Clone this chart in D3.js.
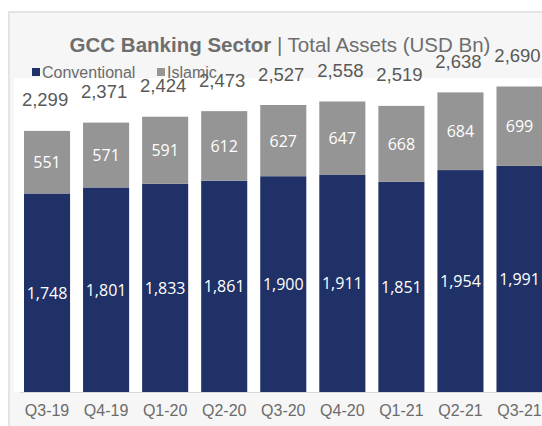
<!DOCTYPE html>
<html>
<head>
<meta charset="utf-8">
<script src="https://cdn.jsdelivr.net/npm/d3@7"></script>
<style>
  body { margin: 0; background: #fff; }
  svg { display: block; }
</style>
</head>
<body>
<div id="chart"></div>
<script>
// data
var quarters = ["Q3-19", "Q4-19", "Q1-20", "Q2-20", "Q3-20", "Q4-20", "Q1-21", "Q2-21", "Q3-21"];
var conventional = [1748, 1801, 1833, 1861, 1900, 1911, 1851, 1954, 1991];
var islamic = [551, 571, 591, 612, 627, 647, 668, 684, 699];
var totals = [2299, 2371, 2424, 2473, 2527, 2558, 2519, 2638, 2690];
var seriesNames = ["Conventional", "Islamic"];
var seriesColors = ["#1f3166", "#959595"];

var svgWidth = 542;
var svgHeight = 426;

var svg = d3.select("#chart")
  .append("svg")
  .attr("width", svgWidth)
  .attr("height", svgHeight);

// chart area frame
svg.append("rect")
  .attr("x", 9).attr("y", 12)
  .attr("width", svgWidth).attr("height", svgHeight)
  .attr("fill", "#f6f6f6")
  .attr("stroke", "#e4e4e4")
  .attr("stroke-width", 2);

// plot area
svg.append("rect")
  .attr("x", 14).attr("y", 78)
  .attr("width", svgWidth).attr("height", 314)
  .attr("fill", "#ffffff");

var rows = quarters.map(function(q, i) {
  return { quarter: q, Conventional: conventional[i], Islamic: islamic[i], total: totals[i] };
});

var xScale = d3.scaleBand()
  .domain(quarters)
  .range([17.5, 17.5 + 9 * 59.06])
  .paddingInner(0.22)
  .paddingOuter(0.11);

var yScale = d3.scaleLinear()
  .domain([0, 2800])
  .range([392, 74]);

var stacked = d3.stack().keys(seriesNames)(rows);

var chartGroup = svg.append("g");

var layers = chartGroup.selectAll(".layer")
  .data(stacked)
  .enter()
  .append("g")
  .attr("fill", (d, i) => seriesColors[i]);

layers.selectAll("rect")
  .data(d => d)
  .enter()
  .append("rect")
  .attr("x", d => xScale(d.data.quarter))
  .attr("y", d => yScale(d[1]))
  .attr("width", xScale.bandwidth())
  .attr("height", d => yScale(d[0]) - yScale(d[1]));

// values inside the segments
layers.selectAll("text")
  .data(d => d)
  .enter()
  .append("text")
  .attr("x", d => xScale(d.data.quarter) + xScale.bandwidth() / 2)
  .attr("y", d => (yScale(d[0]) + yScale(d[1])) / 2)
  .attr("text-anchor", "middle")
  .attr("dominant-baseline", "central")
  .attr("font-family", "'Open Sans', sans-serif")
  .attr("font-size", "16px")
  .attr("fill", "#ffffff")
  .text(d => d3.format(",")(d[1] - d[0]));

// x axis
var bottomAxis = d3.axisBottom(xScale).tickSize(0).tickPadding(13);
var xAxis = chartGroup.append("g")
  .attr("transform", "translate(0, 392)")
  .call(bottomAxis);
xAxis.select(".domain").remove();
xAxis.selectAll("text")
  .attr("font-family", "'Liberation Sans', Arial, sans-serif")
  .attr("font-size", "16px")
  .attr("fill", "#6b6b6b");

chartGroup.append("line")
  .attr("x1", 20).attr("x2", svgWidth)
  .attr("y1", 392.5).attr("y2", 392.5)
  .attr("stroke", "#d9d9d9")
  .attr("stroke-width", 1);

// legend
var legendX = [32, 157];
var legend = svg.selectAll(".legend")
  .data(seriesNames)
  .enter()
  .append("g")
  .attr("transform", (d, i) => `translate(${legendX[i]}, 72)`);
legend.append("rect")
  .attr("x", 0).attr("y", -4)
  .attr("width", 8).attr("height", 8)
  .attr("fill", (d, i) => seriesColors[i]);
legend.append("text")
  .attr("x", 10)
  .attr("dominant-baseline", "central")
  .attr("font-family", "'Liberation Sans', Arial, sans-serif")
  .attr("font-size", "16px")
  .attr("fill", "#6b6b6b")
  .text(d => d);

// totals above bars
chartGroup.selectAll(".total")
  .data(rows)
  .enter()
  .append("text")
  .attr("x", d => xScale(d.quarter) + xScale.bandwidth() / 2 - 2)
  .attr("y", d => yScale(d.total) - 31)
  .attr("text-anchor", "middle")
  .attr("dominant-baseline", "central")
  .attr("font-family", "'Liberation Sans', Arial, sans-serif")
  .attr("font-size", "18.5px")
  .attr("fill", "#595959")
  .text(d => d3.format(",")(d.total));

// title
var title = svg.append("text")
  .attr("x", 280)
  .attr("y", 52)
  .attr("text-anchor", "middle")
  .attr("font-family", "'Liberation Sans', Arial, sans-serif")
  .attr("font-size", "20.5px")
  .attr("fill", "#6e6e6e");
title.append("tspan").attr("font-weight", "bold").text("GCC Banking Sector");
title.append("tspan").text("  | Total Assets (USD Bn)");
</script>
</body>
</html>
